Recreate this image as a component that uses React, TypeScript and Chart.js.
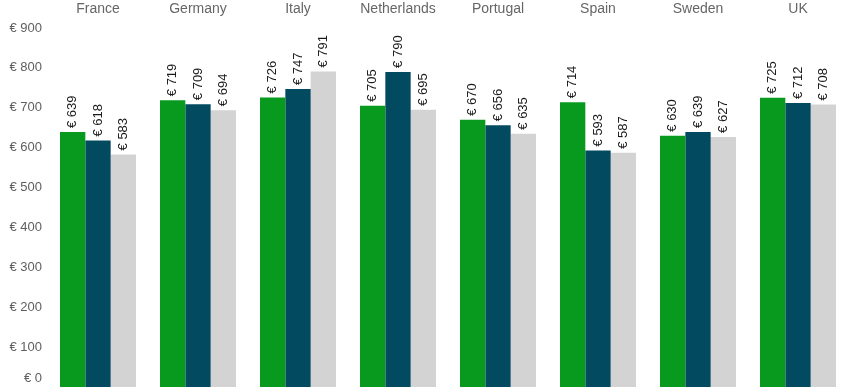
import React, { useEffect, useRef } from "react";
import { Chart, registerables } from "chart.js";

Chart.register(...registerables);

const categories = ["France", "Germany", "Italy", "Netherlands", "Portugal", "Spain", "Sweden", "UK"];
const seriesNames = ["Series 1", "Series 2", "Series 3"];
const series1 = [639, 719, 726, 705, 670, 714, 630, 725];
const series2 = [618, 709, 747, 790, 656, 593, 639, 712];
const series3 = [583, 694, 791, 695, 635, 587, 627, 708];
const seriesColors = ["#079A1F", "#024A60", "#D3D3D3"];
const yTicks = { min: 0, max: 900, step: 100 };

const FONT = "'Liberation Sans', Arial, sans-serif";

const valueLabels = {
  id: "valueLabels",
  afterDatasetsDraw(chart: any) {
    const ctx = chart.ctx;
    ctx.save();
    ctx.font = `13px ${FONT}`;
    ctx.fillStyle = "#1a1a1a";
    ctx.textAlign = "left";
    ctx.textBaseline = "middle";
    chart.data.datasets.forEach((ds: any, di: number) => {
      const meta = chart.getDatasetMeta(di);
      meta.data.forEach((bar: any, i: number) => {
        const v = ds.data[i];
        ctx.save();
        ctx.translate(bar.x, bar.y - 4);
        ctx.rotate(-Math.PI / 2);
        ctx.fillText(`€ ${v}`, 0, 0);
        ctx.restore();
      });
    });
    ctx.restore();
  },
};

const shiftZeroLabel = {
  id: "shiftZeroLabel",
  beforeDraw(chart: any) {
    const scale = chart.scales.y;
    const items = scale.getLabelItems();
    items.forEach((it: any) => {
      if (it.label === "€ 0") {
        const [x, y] = it.options.translation;
        it.options.translation = [x, y - 9];
      }
    });
  },
};

export default function App() {
  const ref = useRef<HTMLCanvasElement>(null);
  useEffect(() => {
    if (!ref.current) return;
    const chart = new Chart(ref.current, {
      type: "bar",
      data: {
        labels: categories,
        datasets: [series1, series2, series3].map((d, i) => ({
          label: seriesNames[i],
          data: d,
          backgroundColor: seriesColors[i],
          borderWidth: 0,
          categoryPercentage: 0.76,
          barPercentage: 1.0,
        })),
      },
      options: {
        responsive: false,
        animation: false,
        layout: { padding: { right: 2, top: 0, bottom: 0, left: 0 } },
        plugins: {
          legend: { display: false },
          tooltip: { enabled: false },
        },
        scales: {
          x: {
            position: "top",
            grid: { display: false, drawTicks: false },
            border: { display: false },
            ticks: {
              color: "#666666",
              padding: 13.6,
              font: { family: FONT, size: 14, lineHeight: 0.8 },
              maxRotation: 0,
              autoSkip: false,
            },
            afterFit: (scale: any) => {
              scale.height = 28;
            },
          },
          y: {
            min: yTicks.min,
            max: yTicks.max,
            grid: { display: false, drawTicks: false },
            border: { display: false },
            ticks: {
              stepSize: yTicks.step,
              color: "#5f5f5f",
              padding: 6,
              font: { family: FONT, size: 13 },
              callback: (v: any) => `€ ${v}`,
            },
            afterFit: (scale: any) => {
              scale.width = 48;
              scale.paddingBottom = 0;
              scale.paddingTop = 0;
            },
          },
        },
      },
      plugins: [valueLabels, shiftZeroLabel],
    });
    return () => chart.destroy();
  }, []);
  return (
    <div style={{ position: "fixed", left: 0, top: 0, width: 850, height: 387, background: "#fff" }}>
      <canvas ref={ref} width={850} height={387} />
    </div>
  );
}
